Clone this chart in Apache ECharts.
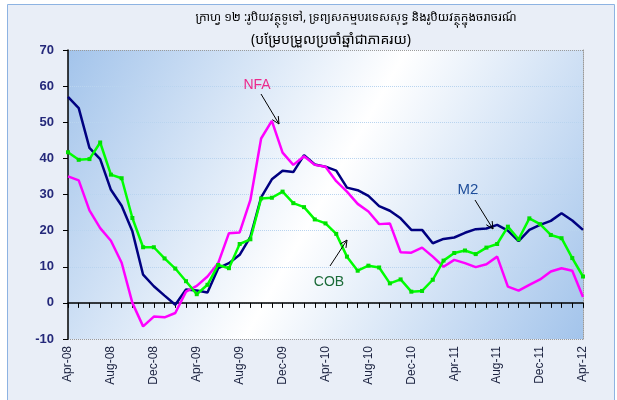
<!DOCTYPE html>
<html>
<head>
<meta charset="utf-8">
<script src="https://cdn.jsdelivr.net/npm/echarts@6/dist/echarts.min.js"></script>
<style>
  html, body { margin: 0; padding: 0; background: #fff; }
  #main { width: 617px; height: 400px; }
</style>
</head>
<body>
<div id="main"></div>
<script>
// months Apr-08 .. Apr-12
var months = ['Apr-08','May-08','Jun-08','Jul-08','Aug-08','Sep-08','Oct-08','Nov-08','Dec-08','Jan-09','Feb-09','Mar-09',
  'Apr-09','May-09','Jun-09','Jul-09','Aug-09','Sep-09','Oct-09','Nov-09','Dec-09','Jan-10','Feb-10','Mar-10',
  'Apr-10','May-10','Jun-10','Jul-10','Aug-10','Sep-10','Oct-10','Nov-10','Dec-10','Jan-11','Feb-11','Mar-11',
  'Apr-11','May-11','Jun-11','Jul-11','Aug-11','Sep-11','Oct-11','Nov-11','Dec-11','Jan-12','Feb-12','Mar-12','Apr-12'];

var m2 = [57.0, 53.9, 42.9, 39.8, 31.3, 26.9, 19.8, 7.8, 4.6, 2.0, -0.5, 3.7,
  3.4, 2.9, 9.6, 11.0, 13.3, 18.3, 29.2, 34.2, 36.6, 36.2, 40.9, 38.3,
  37.7, 36.6, 31.9, 31.2, 29.6, 26.8, 25.5, 23.4, 20.2, 20.2, 16.5, 17.7,
  18.1, 19.4, 20.4, 20.6, 21.6, 20.0, 17.1, 20.2, 21.6, 22.7, 24.8, 22.8, 20.2];

var nfa = [35.0, 33.9, 25.6, 20.7, 17.2, 11.1, 0.0, -6.5, -3.8, -4.0, -2.8, 3.1,
  4.7, 7.3, 11.0, 19.3, 19.5, 28.5, 45.5, 50.4, 41.6, 38.2, 40.6, 38.2,
  37.7, 33.7, 30.8, 27.4, 25.3, 21.8, 22.0, 14.0, 13.9, 15.3, 12.8, 10.0,
  11.9, 11.0, 9.9, 10.7, 12.8, 4.5, 3.4, 5.0, 6.5, 8.7, 9.6, 8.9, 1.6];

var cob = [41.7, 39.6, 39.8, 44.4, 35.5, 34.5, 23.5, 15.4, 15.4, 12.3, 9.5, 6.0,
  2.4, 5.0, 10.5, 9.6, 16.3, 17.6, 28.9, 29.1, 30.8, 27.6, 26.5, 23.1,
  22.0, 19.1, 12.8, 8.9, 10.3, 9.8, 5.4, 6.5, 3.1, 3.3, 6.4, 11.7,
  13.8, 14.5, 13.5, 15.3, 16.3, 21.1, 17.6, 23.4, 21.8, 18.8, 17.9, 12.4, 7.3];

var titleText = 'ក្រាហ្វ ១២ :រូបិយវត្ថុទូទៅ, ទ្រព្យសកម្មបរទេសសុទ្ធ និងរូបិយវត្ថុក្នុងចរាចរណ៍';
var subText = '(បម្រែបម្រួលប្រចាំឆ្នាំជាភាគរយ)';

var khmerFont = "'Noto Sans Khmer', 'Khmer OS', 'Khmer OS System', 'Noto Sans', sans-serif";

// open V arrow made of a line and two short wings
function arrow(x1, y1, x2, y2) {
  var a = Math.atan2(y2 - y1, x2 - x1);
  var L = 8, w = 0.45;
  var p1 = [x2 - L * Math.cos(a - w), y2 - L * Math.sin(a - w)];
  var p2 = [x2 - L * Math.cos(a + w), y2 - L * Math.sin(a + w)];
  return [
    { type: 'line', shape: { x1: x1, y1: y1, x2: x2, y2: y2 }, style: { stroke: '#000', lineWidth: 1 }, z: 100 },
    { type: 'polyline', shape: { points: [p1, [x2, y2], p2] }, style: { stroke: '#000', lineWidth: 1, fill: null }, z: 100 }
  ];
}

var chart = echarts.init(document.getElementById('main'));

var gridLineColors = ['#9A9A9A', '#B9D4EF', '#B9D4EF', '#B9D4EF', '#B9D4EF', '#B9D4EF', '#B9D4EF', '#B9D4EF', '#9A9A9A'];

var option = {
  backgroundColor: '#ffffff',
  animation: false,
  grid: {
    left: 68, right: 34, top: 50, bottom: 61,
    show: true,
    borderWidth: 0,
    backgroundColor: new echarts.graphic.LinearGradient(0, 0, 1, 1, [
      { offset: 0, color: '#A3C4EB' },
      { offset: 0.5, color: '#FFFFFF' },
      { offset: 1, color: '#A3C4EB' }
    ])
  },
  xAxis: [{
    type: 'category',
    data: months,
    boundaryGap: false,
    axisLine: { onZero: true, lineStyle: { color: '#000', width: 1.5 } },
    axisTick: { show: true, interval: 0, length: 5, lineStyle: { color: '#000' } },
    axisLabel: { show: false },
    splitLine: { show: false }
  }, {
    type: 'category',
    data: months,
    boundaryGap: false,
    position: 'bottom',
    axisLine: { show: false, onZero: false },
    axisTick: { show: false },
    axisLabel: {
      interval: 3,
      rotate: 90,
      margin: 7,
      fontFamily: 'Liberation Sans, Arial, sans-serif',
      fontSize: 12,
      color: '#1C2340'
    },
    splitLine: { show: false }
  }],
  yAxis: [{
    type: 'value',
    min: -10, max: 70, interval: 10,
    axisLine: { show: true, lineStyle: { color: '#000', width: 1.5 } },
    axisTick: { show: true, length: 5, lineStyle: { color: '#000' } },
    axisLabel: {
      margin: 14,
      fontFamily: 'Liberation Sans, Arial, sans-serif',
      fontSize: 13,
      fontWeight: 'bold',
      color: '#24287A'
    },
    splitLine: { show: true, lineStyle: { color: gridLineColors, type: 'dotted', width: 1 } }
  }, {
    type: 'value',
    position: 'right',
    min: -10, max: 70, interval: 10,
    axisLine: { show: true, lineStyle: { color: '#9A9A9A', type: 'dotted', width: 1 } },
    axisTick: { show: false },
    axisLabel: { show: false },
    splitLine: { show: false }
  }],
  series: [{
    name: 'M2',
    type: 'line',
    data: m2,
    showSymbol: false,
    lineStyle: { color: '#000080', width: 2.5 },
    itemStyle: { color: '#000080' },
    z: 3
  }, {
    name: 'NFA',
    type: 'line',
    data: nfa,
    showSymbol: false,
    lineStyle: { color: '#FF00FF', width: 2.5 },
    itemStyle: { color: '#FF00FF' },
    z: 4
  }, {
    name: 'COB',
    type: 'line',
    data: cob,
    symbol: 'rect',
    symbolSize: 4,
    showAllSymbol: true,
    lineStyle: { color: '#00FF00', width: 2.5 },
    itemStyle: { color: '#00E000' },
    z: 5
  }],
  graphic: [
    { type: 'rect', shape: { x: 7.5, y: 4.5, width: 607, height: 400 }, style: { fill: '#E9EEF7', stroke: '#8DB3E2', lineWidth: 1 }, z: -10, silent: true },
    { type: 'text', x: 356, y: 18, style: { text: titleText, font: '12px ' + khmerFont, fill: '#000', align: 'center', verticalAlign: 'middle' }, z: 100 },
    { type: 'text', x: 331, y: 40, style: { text: subText, font: '14px ' + khmerFont, fill: '#000', align: 'center', verticalAlign: 'middle' }, z: 100 },
    { type: 'text', x: 257, y: 85, style: { text: 'NFA', font: '14px Liberation Sans, Arial, sans-serif', fill: '#EC2A8C', align: 'center', verticalAlign: 'middle' }, z: 100 },
    { type: 'text', x: 468, y: 190, style: { text: 'M2', font: '15px Liberation Sans, Arial, sans-serif', fill: '#1F4E9A', align: 'center', verticalAlign: 'middle' }, z: 100 },
    { type: 'text', x: 329, y: 282, style: { text: 'COB', font: '14px Liberation Sans, Arial, sans-serif', fill: '#1B6B38', align: 'center', verticalAlign: 'middle' }, z: 100 }
  ].concat(arrow(261, 94, 279, 124))
   .concat(arrow(475, 200, 493, 229))
   .concat(arrow(330, 266, 347, 240))
};

chart.setOption(option);
</script>
</body>
</html>
